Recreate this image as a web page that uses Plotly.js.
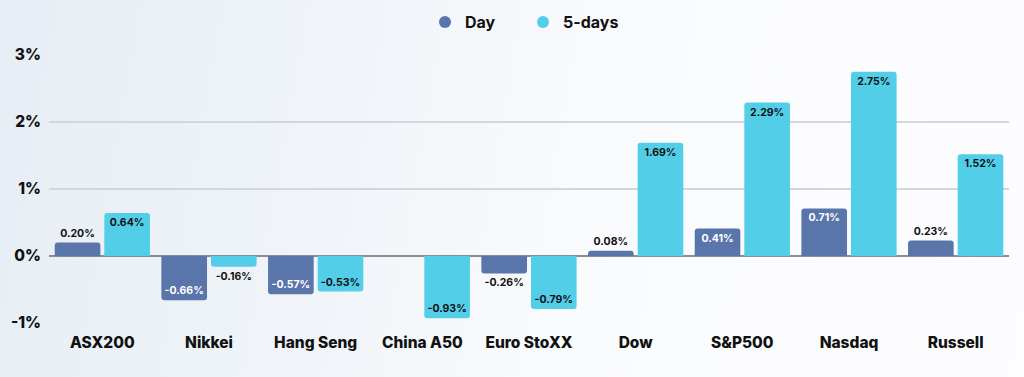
<!DOCTYPE html>
<html>
<head>
<meta charset="utf-8">
<script src="https://cdn.plot.ly/plotly-3.0.1.min.js"></script>
<style>
html,body{margin:0;padding:0;width:1024px;height:377px;overflow:hidden;
background:linear-gradient(100deg,#e6edf4 0%,#f1f5f9 35%,#fafbfd 60%,#fdfdff 100%);}
#chart{width:1024px;height:377px;}
</style>
</head>
<body>
<div id="chart"></div>
<script>
const categories = ["ASX200","Nikkei","Hang Seng","China A50","Euro StoXX","Dow","S&P500","Nasdaq","Russell"];
const dayValues = [0.20,-0.66,-0.57,null,-0.26,0.08,0.41,0.71,0.23];
const fiveDayValues = [0.64,-0.16,-0.53,-0.93,-0.79,1.69,2.29,2.75,1.52];
const yTickValues = [-1,0,1,2,3];
const yTickLabels = ["-1%","0%","1%","2%","3%"];

const DAY_COLOR = "#5a75aa";
const FIVE_COLOR = "#52cee9";
const FONT = "Inter, 'Open Sans', sans-serif";

function labels(vals){ return vals.map(v => v === null ? "" : v.toFixed(2) + "%"); }
function positions(vals){ return vals.map(v => (v !== null && Math.abs(v) < 0.3) ? "outside" : "inside"); }

const barCommon = {
  type: "bar",
  x: categories,
  textfont: {family: FONT, size: 10.5, weight: 700},
  outsidetextfont: {family: FONT, size: 10.5, color: "#111", weight: 700},
  insidetextanchor: "end",
  constraintext: "none",
  cliponaxis: false,
  showlegend: false,
  hoverinfo: "skip"
};

const data = [
  Object.assign({}, barCommon, {
    name: "Day", y: dayValues, text: labels(dayValues), textposition: positions(dayValues),
    marker: {color: DAY_COLOR, cornerradius: 3},
    insidetextfont: {family: FONT, size: 10.5, color: "#ffffff", weight: 700}
  }),
  Object.assign({}, barCommon, {
    name: "5-days", y: fiveDayValues, text: labels(fiveDayValues), textposition: positions(fiveDayValues),
    marker: {color: FIVE_COLOR, cornerradius: 3},
    insidetextfont: {family: FONT, size: 10.5, color: "#111111", weight: 700}
  }),
  {type:"scatter", mode:"markers", x:[null], y:[null], name:"Day",
   marker:{symbol:"circle", size:17, color:DAY_COLOR}, showlegend:true, hoverinfo:"skip"},
  {type:"scatter", mode:"markers", x:[null], y:[null], name:"5-days",
   marker:{symbol:"circle", size:17, color:FIVE_COLOR}, showlegend:true, hoverinfo:"skip"}
];

const layout = {
  width: 1024, height: 377,
  margin: {l: 49, r: 15, t: 55, b: 54},
  paper_bgcolor: "rgba(0,0,0,0)",
  plot_bgcolor: "rgba(0,0,0,0)",
  barmode: "group",
  bargap: 0.07,
  bargroupgap: 0.08,
  font: {family: FONT, color: "#111"},
  showlegend: true,
  legend: {orientation: "h", x: 425/1024, xanchor: "left", xref: "container",
           y: 1 - 22/377, yanchor: "middle", yref: "container",
           font: {family: FONT, size: 16, color: "#111", weight: 700},
           itemsizing: "constant", itemwidth: 30, entrywidth: 53, entrywidthmode: "pixels",
           bgcolor: "rgba(0,0,0,0)"},
  xaxis: {
    type: "category", showgrid: false, zeroline: false, showline: false,
    ticks: "", tickfont: {family: FONT, size: 15.5, color: "#111", weight: 800},
    ticklabelstandoff: 8, fixedrange: true
  },
  yaxis: {
    range: [-1, 3], tickvals: yTickValues, ticktext: yTickLabels,
    showgrid: true, gridcolor: "#d3d7dc", gridwidth: 1.5,
    zeroline: true, zerolinecolor: "#8a8d91", zerolinewidth: 1.5,
    showline: false, ticks: "",
    tickfont: {family: FONT, size: 15.5, color: "#111", weight: 800},
    ticklabelstandoff: 7, fixedrange: true
  }
};

Plotly.newPlot("chart", data, layout, {displayModeBar: false, staticPlot: true});
</script>
</body>
</html>
